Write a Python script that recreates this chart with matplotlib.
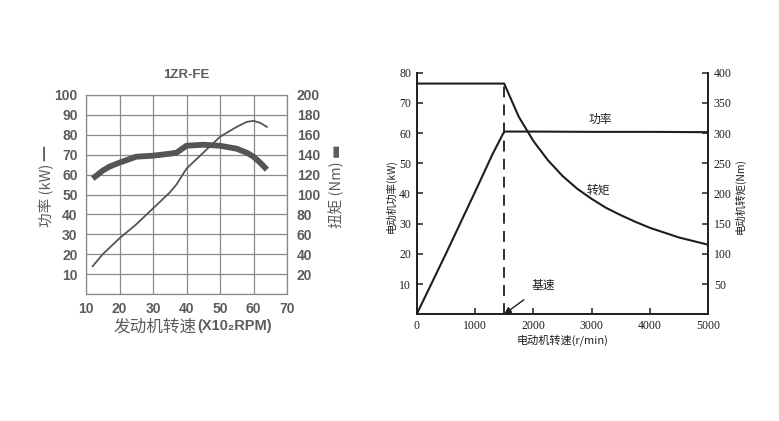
import matplotlib
matplotlib.use("Agg")
import matplotlib.pyplot as plt

plt.rcParams['font.family'] = ['Noto Sans CJK SC', 'DejaVu Sans']

# ---------------- Left chart data (1ZR-FE) ----------------
eng_title = "1ZR-FE"
eng_rpm_power = [12, 15, 20, 25, 30, 35, 37, 40, 45, 50, 52, 55, 58, 60, 62, 64]
eng_power_kw = [14, 20, 28, 35, 43, 51, 55, 63, 71, 79, 81, 84, 86.5, 87, 86, 84]
eng_rpm_torque = [12, 15, 17, 20, 25, 30, 35, 37, 40, 45, 50, 55, 58, 60, 62, 64]
eng_torque_nm = [116, 124, 128, 132, 138, 139, 141, 142, 149, 150, 149, 146, 142, 138, 132, 125]
eng_xticks = [10, 20, 30, 40, 50, 60, 70]
eng_yticks_kw = [10, 20, 30, 40, 50, 60, 70, 80, 90, 100]
eng_yticks_nm = [20, 40, 60, 80, 100, 120, 140, 160, 180, 200]

# ---------------- Right chart data (motor) ----------------
mot_rpm_power = [0, 500, 1000, 1300, 1500, 2000, 3000, 4000, 5000]
mot_power_kw = [0, 20, 40.5, 53, 60.5, 60.5, 60.4, 60.4, 60.3]
mot_rpm_torque = [0, 1500, 1750, 2000, 2250, 2500, 2750, 3000, 3250, 3500, 3750, 4000, 4250, 4500, 4750, 5000]
mot_torque_nm = [382, 382, 327, 287, 255, 229, 208, 191, 176, 164, 153, 143, 135, 127, 121, 115]
mot_base_speed = 1500
mot_xticks = [0, 1000, 2000, 3000, 4000, 5000]
mot_yticks_kw = [10, 20, 30, 40, 50, 60, 70, 80]
mot_yticks_nm = [50, 100, 150, 200, 250, 300, 350, 400]

fig = plt.figure(figsize=(7.79, 4.21), dpi=100)

# ================= Left chart =================
gray_txt = '#5c5c5c'
grid_c = '#8a8a8a'
line_c = '#555555'
num_font = ['Liberation Sans', 'DejaVu Sans']
num_size = 10

ax1 = fig.add_axes([86/779, 1-294/421, 201/779, 199/421])
ax1.set_xlim(10, 70)
ax1.set_ylim(0, 100)
ax1.set_xticks(eng_xticks)
ax1.set_yticks([0] + eng_yticks_kw)
ax1.grid(True, color=grid_c, linewidth=0.9)
ax1.set_axisbelow(True)
for s in ax1.spines.values():
    s.set_color(grid_c)
    s.set_linewidth(0.9)
ax1.tick_params(length=0, colors=gray_txt)
ax1.tick_params(axis='y', pad=6)
ax1.tick_params(axis='x', pad=6)
ax1.set_xticklabels([str(v) for v in eng_xticks], fontfamily=num_font, fontweight='bold', fontsize=num_size)
ax1.set_yticklabels([''] + [str(v) for v in eng_yticks_kw], fontfamily=num_font, fontweight='bold', fontsize=num_size)

ax1.plot(eng_rpm_power, eng_power_kw, color=line_c, linewidth=1.3, zorder=3)

ax1b = ax1.twinx()
ax1b.set_ylim(0, 200)
ax1b.set_yticks([0] + eng_yticks_nm)
ax1b.set_yticklabels([''] + [str(v) for v in eng_yticks_nm], fontfamily=num_font, fontweight='bold', fontsize=num_size)
ax1b.tick_params(length=0, pad=7, colors=gray_txt)
for s in ax1b.spines.values():
    s.set_visible(False)
ax1b.plot(eng_rpm_torque, eng_torque_nm, color=line_c, linewidth=4.2, solid_capstyle='butt', zorder=3)

fig.text(186/779, 1-75/421, eng_title, ha='center', va='center', fontfamily=num_font,
         fontweight='bold', fontsize=9.5, color=gray_txt)
fig.text(47/779, 1-186/421, "功率 (kW) ━", rotation=90, ha='center', va='center',
         fontsize=10.5, color=gray_txt)
fig.text(336/779, 1-186/421, "扭矩 (Nm) ▬", rotation=90, ha='center', va='center',
         fontsize=10.5, color=gray_txt)
fig.text(197/779, 1-327/421, "发动机转速", ha='right', va='center',
         fontsize=12, color=gray_txt)
fig.text(197/779, 1-326/421, "(X10₂RPM)", ha='left', va='center', fontfamily=num_font,
         fontweight='bold', fontsize=10.5, color=gray_txt)

# ================= Right chart =================
blk = '#1e1e1e'
serif = ['Liberation Serif', 'DejaVu Serif']
ax2 = fig.add_axes([416.7/779, 1-314.2/421, 291.6/779, 241.5/421])
ax2.set_xlim(0, 5000)
ax2.set_ylim(0, 80)
ax2.spines['top'].set_visible(False)
for s in ['left', 'right', 'bottom']:
    ax2.spines[s].set_color(blk)
    ax2.spines[s].set_linewidth(1.2)
ax2.set_xticks(mot_xticks)
ax2.set_yticks(mot_yticks_kw)
ax2.set_xticklabels([str(v) for v in mot_xticks], fontfamily=serif, fontsize=8.5)
ax2.set_yticklabels([str(v) for v in mot_yticks_kw], fontfamily=serif, fontsize=8.5)
ax2.tick_params(direction='in', length=4, width=1.1, colors=blk, pad=4)

ax2.plot(mot_rpm_power, mot_power_kw, color=blk, linewidth=1.5, zorder=3)

ax2b = ax2.twinx()
ax2b.set_ylim(0, 400)
ax2b.set_yticks(mot_yticks_nm)
ax2b.set_yticklabels([str(v) for v in mot_yticks_nm], fontfamily=serif, fontsize=8.5)
ax2b.tick_params(direction='in', length=4, width=1.1, colors=blk, pad=4)
ax2b.spines['top'].set_visible(False)
for s in ['left', 'right', 'bottom']:
    ax2b.spines[s].set_color(blk)
    ax2b.spines[s].set_linewidth(1.2)
ax2b.plot(mot_rpm_torque, mot_torque_nm, color=blk, linewidth=1.5, zorder=3)
ax2b.plot([mot_base_speed, mot_base_speed], [0, mot_torque_nm[1]], color=blk,
          linewidth=1.3, linestyle=(0, (6, 4)), zorder=3)

ax2.text(3140, 64.5, "功率", ha='center', va='center', fontsize=8.5, color=blk)
ax2.text(3110, 41, "转矩", ha='center', va='center', fontsize=8.5, color=blk)
ax2.annotate("基速", xy=(mot_base_speed, 0), xytext=(2170, 9.5), ha='center', va='center',
             fontsize=8.5, color=blk,
             arrowprops=dict(arrowstyle='-|>', color=blk, lw=1.0, shrinkA=6, shrinkB=0,
                             mutation_scale=10))
fig.text(391/779, 1-196/421, "电动机功率(kW)", rotation=90, ha='center', va='center',
         fontsize=7.5, color=blk)
fig.text(740/779, 1-196/421, "电动机转矩(Nm)", rotation=90, ha='center', va='center',
         fontsize=7.5, color=blk)
fig.text(563/779, 1-340/421, "电动机转速(r/min)", ha='center', va='center',
         fontsize=8, color=blk)

fig.savefig("out.png", dpi=100)
